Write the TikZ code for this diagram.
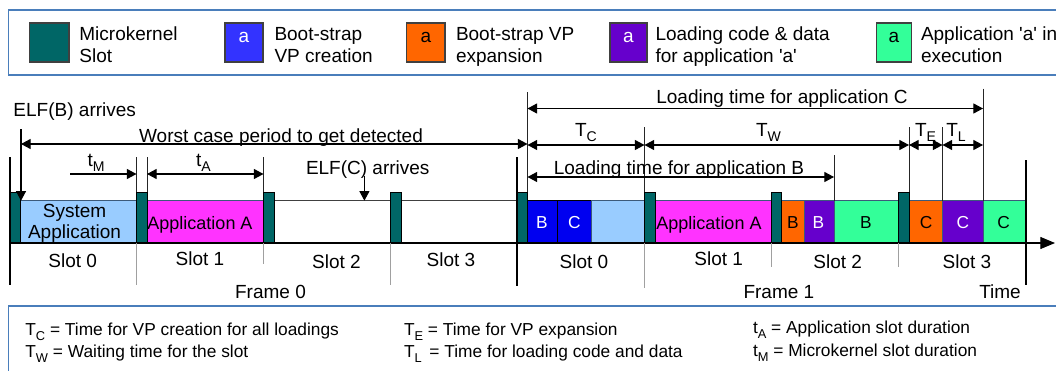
\documentclass[tikz,border=0pt]{standalone}
\usepackage{fontspec}
\setmainfont{Liberation Sans}
\usetikzlibrary{arrows.meta}

\definecolor{mkteal}{HTML}{006666}
\definecolor{vpblue}{HTML}{0000F0}
\definecolor{legblue}{HTML}{3333FF}
\definecolor{vporange}{HTML}{FF6600}
\definecolor{ldpurple}{HTML}{6600CC}
\definecolor{exgreen}{HTML}{33FF99}
\definecolor{sysblue}{HTML}{99CCFF}
\definecolor{appmag}{HTML}{FF33FF}
\definecolor{boxblue}{HTML}{4A7EBB}
\definecolor{blockedge}{HTML}{3C5A7A}
\definecolor{divgray}{HTML}{A0A0A0}

\newcommand{\sq}{\textquotesingle}
% lowered, reduced subscript letter
\newcommand{\lowsub}[1]{\raisebox{-0.3em}{\scalebox{0.74}{#1}}}

\tikzset{
  dimtip/.tip={Triangle[length=7.2pt,width=7.5pt]},
  axistip/.tip={Triangle[length=11pt,width=9pt]},
  txt/.style={font=\fontsize{14.25}{17}\selectfont, inner sep=0pt, outer sep=0pt},
  legtxt/.style={txt, anchor=base west},
  notetxt/.style={font=\fontsize{13}{15}\selectfont, inner sep=0pt, outer sep=0pt, anchor=base west},
  bartxt/.style={font=\fontsize{13.5}{16}\selectfont, inner sep=0pt, anchor=base},
  lettxt/.style={font=\fontsize{13}{15}\selectfont, inner sep=0pt, anchor=base},
  swatch/.style={draw=black!75, line width=1pt},
  frameline/.style={draw=black, line width=1.5pt},
  boxline/.style={draw=boxblue, line width=1.1pt},
  block/.style={draw=blockedge, line width=0.7pt},
  emptyslot/.style={draw=black!75, fill=white, line width=0.7pt},
  mkslot/.style={draw=black, fill=mkteal, line width=0.7pt},
  extline/.style={draw=black!85, line width=0.75pt},
  divline/.style={draw=divgray, line width=0.75pt},
  dimboth/.style={line width=0.8pt, dimtip-dimtip},
  dimright/.style={line width=0.8pt, -dimtip},
}

\begin{document}
\begin{tikzpicture}[x=0.75pt, y=-0.75pt]
\useasboundingbox (0,0) rectangle (1056,371);

% ---------- legend ----------
\draw[boxline] (8.5,10) rectangle (1075,75);
\draw[swatch, fill=mkteal]   (29.7,23) rectangle (69,62);
\draw[swatch, fill=legblue]  (225,23) rectangle (263,62);
\draw[swatch, fill=vporange] (406.7,23) rectangle (445,62);
\draw[swatch, fill=ldpurple] (610,23) rectangle (647,62);
\draw[swatch, fill=exgreen]  (876.6,23) rectangle (911.4,62);
\node[txt, anchor=base, text=white] (swa1) at (244,42) {a};
\node[txt, anchor=base, text=black] (swa2) at (425.8,42) {a};
\node[txt, anchor=base, text=white] (swa3) at (628.5,42) {a};
\node[txt, anchor=base, text=black] (swa4) at (894,42) {a};

\node[legtxt] (lg1a) at (79.4,40.5) {Microkernel};
\node[legtxt] (lg1b) at (79.4,62) {Slot};
\node[legtxt] (lg2a) at (274.5,40.5) {Boot-strap};
\node[legtxt] (lg2b) at (274.5,62) {VP creation};
\node[legtxt] (lg3a) at (456,40.5) {Boot-strap VP};
\node[legtxt] (lg3b) at (456,62) {expansion};
\node[legtxt] (lg4a) at (655.5,40.5) {Loading code \& data};
\node[legtxt] (lg4b) at (655.5,62) {for application \sq a\sq};
\node[legtxt] (lg5a) at (921,40.5) {Application \sq a\sq{} in};
\node[legtxt] (lg5b) at (921,62) {execution};

% ---------- slot contents, frame 0 ----------
\draw[block, fill=sysblue] (20,200.7) rectangle (136.5,243);
\draw[block, fill=appmag]  (147,200.7) rectangle (263.5,243);
\draw[emptyslot] (274,200.7) rectangle (390.5,243);
\draw[emptyslot] (401,200.7) rectangle (517,243);

% ---------- slot contents, frame 1 ----------
\draw[draw=black, line width=0.7pt, fill=vpblue] (527.5,200.7) rectangle (557.5,243);
\draw[draw=black, line width=0.7pt, fill=vpblue] (557.5,200.7) rectangle (591,243);
\draw[block, fill=sysblue]  (591,200.7) rectangle (644.5,243);
\draw[block, fill=appmag]   (655,200.7) rectangle (771,243);
\draw[block, fill=vporange] (781.5,200.7) rectangle (804,243);
\draw[block, fill=ldpurple] (804,200.7) rectangle (834,243);
\draw[block, fill=exgreen]  (834,200.7) rectangle (898.5,243);
\draw[block, fill=vporange] (909,200.7) rectangle (942.5,243);
\draw[block, fill=ldpurple] (942.5,200.7) rectangle (983,243);
\draw[block, fill=exgreen]  (983,200.7) rectangle (1025.5,243);

% ---------- microkernel slots ----------
\foreach \a/\b in {9.5/20, 136.5/147, 263.5/274, 390.5/401, 517/527.5,
                   644.5/655, 771/781.5, 898.5/909}
  \draw[mkslot] (\a,192.3) rectangle (\b,243);

% ---------- texts inside the slots ----------
\node[txt, anchor=base] (sys1) at (74.5,217.3) {System};
\node[txt, anchor=base] (sys2) at (74.5,238.3) {Application};
\node[bartxt] (appa0) at (200,229.5) {Application A};
\node[bartxt] (appa1) at (709,229.5) {Application A};
\node[lettxt, text=white] (cb1) at (542,228.3) {B};
\node[lettxt, text=white] (cc1) at (574.3,228.3) {C};
\node[lettxt] (eb) at (793,228.3) {B};
\node[lettxt, text=white] (lb) at (818.4,228.3) {B};
\node[lettxt] (xb) at (865.8,228.3) {B};
\node[lettxt] (ec) at (926,228.3) {C};
\node[lettxt, text=white] (lc) at (962.8,228.3) {C};
\node[lettxt] (xc) at (1003.7,228.3) {C};

% ---------- time axis ----------
\coordinate (axs) at (9.5,243);
\coordinate (axe) at (1055,243);
\draw[line width=0.8pt, -axistip] (axs) -- (axe);

% ---------- frame boundaries ----------
\draw[frameline] (9.5,157) -- (9.5,285);
\draw[frameline] (517,157) -- (517,286);
\draw[frameline] (1025.5,160) -- (1025.5,285);

% ---------- slot dividers below the axis ----------
\draw[divline] (136.5,243) -- (136.5,285);
\draw[divline] (263.5,243) -- (263.5,264);
\draw[divline] (390.5,243) -- (390.5,285);
\draw[divline] (644.5,243) -- (644.5,288);
\draw[divline] (771,243) -- (771,267);
\draw[divline] (898.5,243) -- (898.5,267);

% ---------- extension lines above the slots ----------
\draw[extline] (136.5,157) -- (136.5,192.3);
\draw[extline] (147,157) -- (147,192.3);
\draw[extline] (263.5,157) -- (263.5,192.3);
\draw[extline] (527.5,92) -- (527.5,192.3);
\draw[extline] (644.5,127) -- (644.5,192.3);
\draw[extline] (834,155) -- (834,200.7);
\draw[extline] (909,127) -- (909,192.3);
\draw[extline] (942.5,127) -- (942.5,200.7);
\draw[extline] (983,88.5) -- (983,200.7);

% ---------- arrival events ----------
\node[legtxt] (elfb) at (13.5,116.5) {ELF(B) arrives};
\coordinate (elfbtop) at (21,129);
\coordinate (elfbhit) at (21,200.7);
\draw[dimright] (elfbtop) -- (elfbhit);

\node[legtxt] (elfc) at (306,174) {ELF(C) arrives};
\coordinate (elfctop) at (364.4,176);
\coordinate (elfchit) at (364.4,200.7);
\draw[dimright] (elfctop) -- (elfchit);

% ---------- durations ----------
\coordinate (wc0) at (21,144);
\coordinate (wc1) at (527.5,144);
\draw[dimboth] (wc0) -- (wc1);
\node[txt, anchor=base] (wclbl) at (281,142) {Worst case period to get detected};

\coordinate (tm0) at (70,174);
\coordinate (tm1) at (136.5,174);
\draw[dimright] (tm0) -- (tm1);
\node[txt, anchor=base] (tmlbl) at (96,166) {t\lowsub{M}};

\coordinate (ta0) at (147,174);
\coordinate (ta1) at (263.5,174);
\draw[dimboth] (ta0) -- (ta1);
\node[txt, anchor=base] (talbl) at (203.5,166) {t\lowsub{A}};

\coordinate (lc0) at (527.5,108.5);
\coordinate (lc1) at (983,108.5);
\draw[dimboth] (lc0) -- (lc1);
\node[txt, anchor=base] (lclbl) at (782,103.7) {Loading time for application C};

\coordinate (tc0) at (527.5,145);
\coordinate (tc1) at (644.5,145);
\coordinate (tw1) at (909,145);
\coordinate (te1) at (942.5,145);
\coordinate (tl1) at (983,145);
\draw[dimboth] (tc0) -- (tc1);
\draw[dimboth] (tc1) -- (tw1);
\draw[dimboth] (tw1) -- (te1);
\draw[dimboth] (te1) -- (tl1);
\node[txt, anchor=base] (tclbl) at (586,136) {T\lowsub{C}};
\node[txt, anchor=base] (twlbl) at (768.5,136) {T\lowsub{W}};
\node[txt, anchor=base] (telbl) at (925.5,136) {T\lowsub{E}};
\node[txt, anchor=base] (tllbl) at (956,136) {T\lowsub{L}};

\coordinate (lb0) at (527.5,177);
\coordinate (lb1) at (834,177);
\draw[dimboth] (lb0) -- (lb1);
\node[txt, anchor=base] (lblbl) at (679,174) {Loading time for application B};

% ---------- slot and frame labels ----------
\node[txt, anchor=base] (f0s0) at (72.7,267.5) {Slot 0};
\node[txt, anchor=base] (f0s1) at (200,265) {Slot 1};
\node[txt, anchor=base] (f0s2) at (336.4,268.5) {Slot 2};
\node[txt, anchor=base] (f0s3) at (451,266) {Slot 3};
\node[txt, anchor=base] (fr0) at (270.5,298) {Frame 0};
\node[txt, anchor=base] (f1s0) at (584,268.5) {Slot 0};
\node[txt, anchor=base] (f1s1) at (718.7,265) {Slot 1};
\node[txt, anchor=base] (f1s2) at (837.7,268.5) {Slot 2};
\node[txt, anchor=base] (f1s3) at (967,268.5) {Slot 3};
\node[txt, anchor=base] (fr1) at (778.9,298) {Frame 1};
\node[txt, anchor=base] (tlbl) at (1000,298) {Time};

% ---------- notation box ----------
\draw[boxline] (8.5,306) rectangle (1075,385);
\node[notetxt] (n1) at (25.4,335) {T\lowsub{C} = Time for VP creation for all loadings};
\node[notetxt] (n2) at (25.4,357) {T\lowsub{W} = Waiting time for the slot};
\node[notetxt] (n3) at (404,335) {T\lowsub{E} = Time for VP expansion};
\node[notetxt] (n4) at (404,357) {T\lowsub{L} \,= Time for loading code and data};
\node[notetxt] (n5) at (753,333) {t\lowsub{A} = Application slot duration};
\node[notetxt] (n6) at (753,356) {t\lowsub{M} = Microkernel slot duration};
\end{tikzpicture}
\end{document}
